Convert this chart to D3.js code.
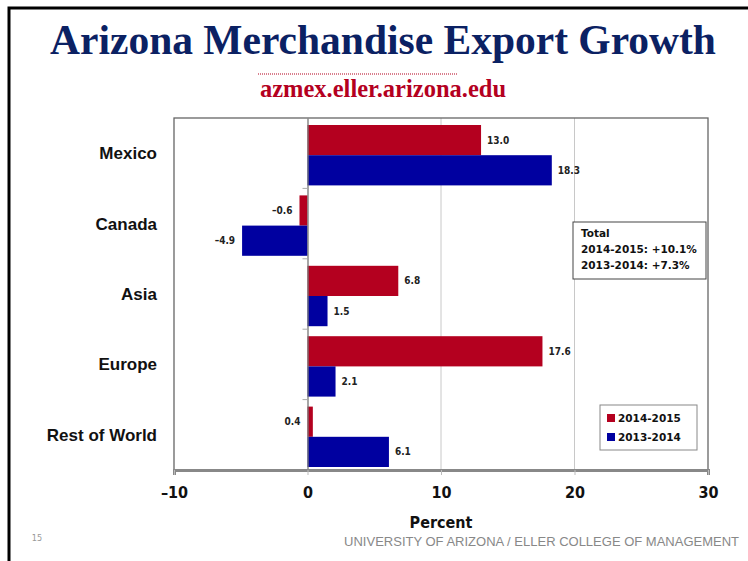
<!DOCTYPE html>
<html lang="en">
<head>
    <meta charset="UTF-8">
    <title>Arizona Merchandise Export Growth</title>
    <script src="https://d3js.org/d3.v7.min.js"></script>
    <style>
        body { margin: 0; background: #fff; }
    </style>
</head>
<body>
    <div id="my_dataviz"></div>
    <script>
        // data
        const regions = ["Mexico", "Canada", "Asia", "Europe", "Rest of World"];
        const growth1415 = [13.0, -0.6, 6.8, 17.6, 0.4];
        const growth1314 = [18.3, -4.9, 1.5, 2.1, 6.1];
        const seriesNames = ["2014-2015", "2013-2014"];
        const xTicks = [-10, 0, 10, 20, 30];
        const totals = ["Total", "2014-2015: +10.1%", "2013-2014: +7.3%"];

        const red = "#b4001f", blue = "#0000a0";
        const condensed = "'DejaVu Sans Condensed', 'Liberation Sans Narrow', 'DejaVu Sans', sans-serif";
        const W = 748, H = 561;
        const margin = {top: 118, right: 40, bottom: 91, left: 174},
            width = W - margin.left - margin.right,
            height = H - margin.top - margin.bottom;

        const root = d3.select("#my_dataviz").append("svg")
            .attr("width", W).attr("height", H);

        // slide frame (top + left rule)
        root.append("path").attr("d", `M9,561V8H748`)
            .attr("fill", "none").attr("stroke", "#000").attr("stroke-width", 3);

        root.append("text").attr("x", 383).attr("y", 54)
            .attr("text-anchor", "middle")
            .style("font-family", "'Liberation Serif', 'Times New Roman', serif")
            .style("font-weight", "bold").style("font-size", "41.5px")
            .attr("fill", "#0b2163")
            .text("Arizona Merchandise Export Growth");

        root.append("line").attr("x1", 258).attr("x2", 458).attr("y1", 74).attr("y2", 74)
            .attr("stroke", red).attr("stroke-width", 1.2).attr("stroke-dasharray", "1,1");

        root.append("text").attr("x", 383).attr("y", 97)
            .attr("text-anchor", "middle")
            .style("font-family", "'Liberation Serif', 'Times New Roman', serif")
            .style("font-weight", "bold").style("font-size", "24.5px")
            .attr("fill", red)
            .text("azmex.eller.arizona.edu");

        const svg = root.append("g")
            .attr("transform", `translate(${margin.left},${margin.top})`);

        const x = d3.scaleLinear().domain([-10, 30]).range([0, width]);
        const y = d3.scaleBand().domain(regions).range([0, height]);
        const inner = d3.scaleBand().domain(seriesNames).range([7, y.bandwidth() - 3]);

        // grid lines
        svg.selectAll("line.grid").data([10, 20]).join("line")
            .attr("class", "grid")
            .attr("x1", d => x(d)).attr("x2", d => x(d))
            .attr("y1", 0).attr("y2", height)
            .attr("stroke", "#c8c8c8").attr("stroke-width", 1);

        // plot frame
        svg.append("rect").attr("width", width).attr("height", height)
            .attr("fill", "none").attr("stroke", "#666").attr("stroke-width", 1.3);

        const rows = regions.map((r, i) => ({region: r, vals: [growth1415[i], growth1314[i]]}));
        const bars = rows.flatMap(d => d.vals.map((v, k) => ({region: d.region, series: seriesNames[k], value: v})));

        svg.selectAll("rect.bar").data(bars).join("rect")
            .attr("class", "bar")
            .attr("x", d => x(Math.min(0, d.value)))
            .attr("y", d => y(d.region) + inner(d.series))
            .attr("width", d => Math.abs(x(d.value) - x(0)))
            .attr("height", inner.bandwidth())
            .attr("fill", d => d.series === seriesNames[0] ? red : blue);

        // value labels
        svg.selectAll("text.val").data(bars).join("text")
            .attr("class", "val")
            .attr("x", d => d.value >= 1 ? x(d.value) + 6 : x(Math.min(0, d.value)) - 7)
            .attr("y", d => y(d.region) + inner(d.series) + inner.bandwidth() / 2 + 3.5)
            .attr("text-anchor", d => d.value >= 1 ? "start" : "end")
            .style("font-family", condensed)
            .style("font-weight", "bold").style("font-size", "10px")
            .attr("fill", "#222")
            .text(d => d.value.toFixed(1).replace("-", "\u2013"));

        // zero axis
        const yAxis = svg.append("g")
            .attr("transform", `translate(${x(0)},0)`)
            .call(d3.axisLeft(y).tickSize(0).tickFormat(""));
        yAxis.select(".domain").attr("stroke", "#777").attr("stroke-width", 1.3);
        svg.selectAll("line.ytick").data(d3.range(1, regions.length)).join("line")
            .attr("class", "ytick")
            .attr("x1", x(0) - 5).attr("x2", x(0))
            .attr("y1", d => d * y.step()).attr("y2", d => d * y.step())
            .attr("stroke", "#aaa");

        // category labels
        svg.selectAll("text.cat").data(regions).join("text")
            .attr("class", "cat")
            .attr("x", -17)
            .attr("y", d => y(d) + y.bandwidth() / 2 + 6)
            .attr("text-anchor", "end")
            .style("font-family", "'Liberation Sans', Arial, sans-serif")
            .style("font-weight", "bold").style("font-size", "17px")
            .attr("fill", "#111")
            .text(d => d);

        // bottom axis
        const xAxis = svg.append("g")
            .attr("transform", `translate(0,${height})`)
            .call(d3.axisBottom(x).tickValues(xTicks).tickSize(5).tickPadding(12)
                .tickFormat(d => d < 0 ? "\u2013" + Math.abs(d) : d));
        xAxis.select(".domain").attr("stroke", "#888").attr("stroke-width", 3);
        xAxis.selectAll(".tick line").attr("stroke", "#bbb");
        xAxis.selectAll(".tick text")
            .style("font-family", condensed)
            .style("font-weight", "bold").style("font-size", "16px")
            .attr("fill", "#111");

        root.append("text").attr("x", margin.left + x(10)).attr("y", 528)
            .attr("text-anchor", "middle")
            .style("font-family", condensed)
            .style("font-weight", "bold").style("font-size", "16px")
            .attr("fill", "#111").text("Percent");

        // totals box
        const tb = root.append("g").attr("transform", "translate(573,222)");
        tb.append("rect").attr("width", 133).attr("height", 57)
            .attr("fill", "#fff").attr("stroke", "#444").attr("stroke-width", 1);
        tb.selectAll("text").data(totals).join("text")
            .attr("x", 8).attr("y", (d, i) => 15 + i * 16)
            .style("font-family", "'DejaVu Sans', Verdana, sans-serif")
            .style("font-weight", "bold").style("font-size", "10.5px")
            .attr("fill", "#111").text(d => d);

        // legend
        const lg = root.append("g").attr("transform", "translate(600,405)");
        lg.append("rect").attr("width", 97).attr("height", 45)
            .attr("fill", "#fff").attr("stroke", "#888").attr("stroke-width", 1);
        const li = lg.selectAll("g.item").data(seriesNames).join("g")
            .attr("class", "item")
            .attr("transform", (d, i) => `translate(7,${9 + i * 19})`);
        li.append("rect").attr("width", 8).attr("height", 8)
            .attr("fill", (d, i) => i === 0 ? red : blue);
        li.append("text").attr("x", 11).attr("y", 8)
            .style("font-family", "'DejaVu Sans', Verdana, sans-serif")
            .style("font-weight", "bold").style("font-size", "10.5px")
            .attr("fill", "#111").text(d => d);

        // footer
        root.append("text").attr("x", 739).attr("y", 546)
            .attr("text-anchor", "end")
            .style("font-family", "'Liberation Sans Narrow', 'Liberation Sans', Arial, sans-serif")
            .style("font-size", "13px")
            .attr("fill", "#888").text("UNIVERSITY OF ARIZONA / ELLER COLLEGE OF MANAGEMENT");
        root.append("text").attr("x", 37).attr("y", 541)
            .attr("text-anchor", "middle")
            .style("font-family", condensed)
            .style("font-size", "9px")
            .attr("fill", "#999").text("15");
    </script>
</body>
</html>
